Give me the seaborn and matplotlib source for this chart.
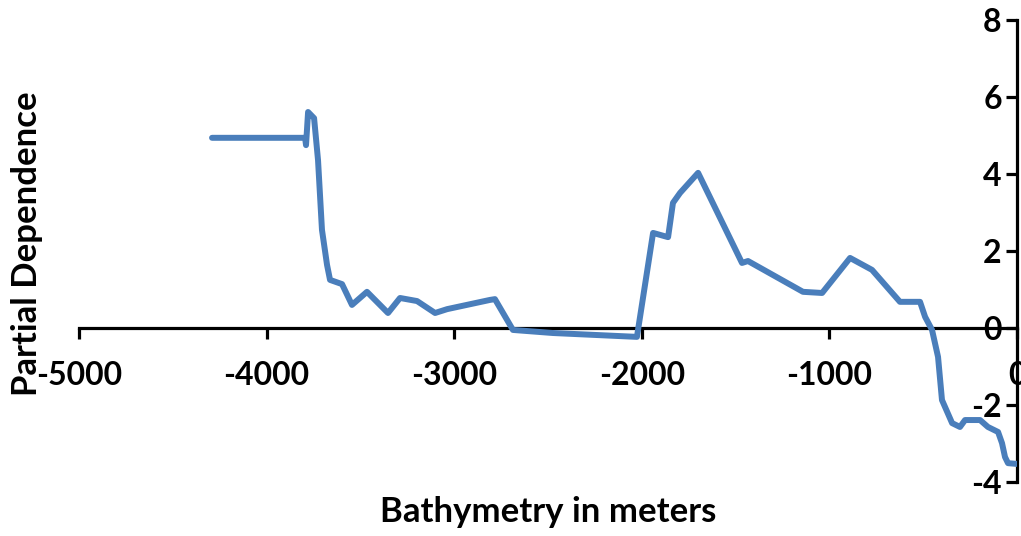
import matplotlib
matplotlib.use("Agg")
import matplotlib.pyplot as plt
import seaborn as sns
import pandas as pd

# Partial dependence of the response on bathymetry (metres)
depth = [-4291, -3795, -3790, -3779, -3747, -3726, -3705, -3678, -3662, -3598,
         -3545, -3465, -3353, -3289, -3198, -3102, -3038, -2809, -2783, -2687,
         -2473, -2026, -1940, -1860, -1834, -1796, -1700, -1466, -1434, -1141,
         -1039, -890, -773, -624, -517, -490, -453, -421, -400, -346,
         -304, -277, -197, -155, -101, -80, -64, -48, 0]
partial_dep = [4.94, 4.94, 4.75, 5.61, 5.45, 4.36, 2.55, 1.64, 1.25, 1.14,
               0.60, 0.94, 0.39, 0.78, 0.70, 0.39, 0.49, 0.73, 0.75, -0.05,
               -0.13, -0.23, 2.47, 2.36, 3.25, 3.51, 4.03, 1.69, 1.74, 0.94,
               0.91, 1.82, 1.51, 0.68, 0.68, 0.29, -0.05, -0.75, -1.87, -2.47,
               -2.57, -2.39, -2.39, -2.57, -2.70, -2.99, -3.35, -3.51, -3.53]

x_ticks = [-5000, -4000, -3000, -2000, -1000, 0]
y_ticks = [-4, -2, 0, 2, 4, 6, 8]

sns.set_style("white")
plt.rcParams["font.family"] = ["Lato", "DejaVu Sans"]
plt.rcParams["font.weight"] = "bold"
plt.rcParams["axes.unicode_minus"] = False
plt.rcParams["text.color"] = "black"

df = pd.DataFrame({"depth": depth, "pd": partial_dep})

fig = plt.figure(figsize=(10.21, 5.36), dpi=100)
ax = fig.add_axes([0.0774, 0.1007, 0.9961 - 0.0774, 0.9627 - 0.1007])

sns.lineplot(data=df, x="depth", y="pd", sort=False, estimator=None,
             color="#4A7EBB", linewidth=4.3, solid_capstyle="round",
             solid_joinstyle="round", ax=ax)

ax.set_xlim(-5000, 0)
ax.set_ylim(-4, 8)
ax.set_xticks(x_ticks)
ax.set_yticks(y_ticks)

# axes cross at the origin: x axis along y=0, y axis along x=0
ax.spines["left"].set_position(("data", 0))
ax.spines["bottom"].set_position(("data", 0))
ax.spines["top"].set_visible(False)
ax.spines["right"].set_visible(False)
for side in ("left", "bottom"):
    ax.spines[side].set_linewidth(2.3)
    ax.spines[side].set_color("black")
    ax.spines[side].set_zorder(1)

ax.tick_params(axis="x", direction="out", length=8, width=2.3, pad=16,
               labelsize=23, colors="black", bottom=True)
ax.tick_params(axis="y", direction="out", length=8, width=2.3, pad=3,
               labelsize=23, colors="black", left=True)
for lbl in ax.get_xticklabels() + ax.get_yticklabels():
    lbl.set_fontweight("bold")
    lbl.set_clip_on(False)

ax.set_xlabel("")
ax.set_ylabel("")
fig.text(0.537, 0.045, "Bathymetry in meters", ha="center", va="center",
         fontsize=25, fontweight="bold", color="black")
fig.text(0.026, 0.545, "Partial Dependence", ha="center", va="center",
         rotation=90, fontsize=25, fontweight="bold", color="black")

fig.savefig("out.png", dpi=100)
